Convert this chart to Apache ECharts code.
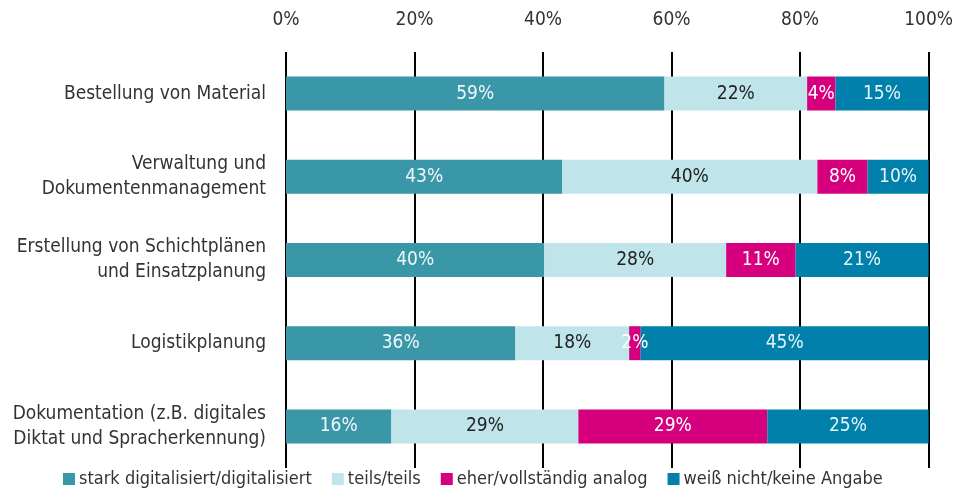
<!DOCTYPE html>
<html>
<head>
<meta charset="utf-8">
<script src="https://cdn.jsdelivr.net/npm/echarts@6/dist/echarts.min.js"></script>
<style>
html,body{margin:0;padding:0;background:#fff;}
#c{width:956px;height:494px;}
</style>
</head>
<body>
<div id="c"></div>
<script>
const categories = [
  'Bestellung von Material',
  'Verwaltung und\nDokumentenmanagement',
  'Erstellung von Schichtplänen\nund Einsatzplanung',
  'Logistikplanung',
  'Dokumentation (z.B. digitales\nDiktat und Spracherkennung)'
];
const seriesNames = [
  'stark digitalisiert/digitalisiert',
  'teils/teils',
  'eher/vollständig analog',
  'weiß nicht/keine Angabe'
];
const starkDigital = [58.9, 43.0, 40.2, 35.7, 16.4];
const teilsTeils   = [22.2, 39.7, 28.3, 17.7, 29.1];
const analog       = [4.4, 7.8, 10.8, 1.8, 29.4];
const keineAngabe  = [14.5, 9.5, 20.7, 44.8, 25.1];
const xTicks = [0, 20, 40, 60, 80, 100];

const colors = ['#3a97a8', '#bfe4ea', '#d6007f', '#0080aa'];
const labelColors = ['#eef7f9', '#222222', '#ffffff', '#e6f3f8'];
const FONT = '"Liberation Sans Narrow", "DejaVu Sans Condensed", "Liberation Sans", sans-serif';

const dataSets = [starkDigital, teilsTeils, analog, keineAngabe];

const chart = echarts.init(document.getElementById('c'));
chart.setOption({
  animation: false,
  backgroundColor: '#ffffff',
  textStyle: { fontFamily: FONT },
  grid: { left: 286, right: 26, top: 52, bottom: 26 },
  legend: {
    bottom: 1,
    left: 58,
    itemWidth: 12,
    itemHeight: 12,
    itemGap: 20,
    icon: 'rect',
    textStyle: { fontFamily: FONT, fontSize: 18, color: '#333333', padding: [0, 0, 0, -1] },
    data: seriesNames
  },
  xAxis: {
    type: 'value',
    position: 'top',
    min: xTicks[0],
    max: xTicks[xTicks.length - 1],
    interval: 20,
    axisLine: { show: false },
    axisTick: { show: false },
    axisLabel: {
      fontFamily: FONT, fontSize: 19, color: '#333333', margin: 22,
      formatter: v => v + '%'
    },
    splitLine: { show: true, lineStyle: { color: '#000000', width: 2 } }
  },
  yAxis: {
    type: 'category',
    inverse: true,
    data: categories,
    axisLine: { show: false },
    axisTick: { show: false },
    axisLabel: {
      fontFamily: FONT, fontSize: 19, color: '#333333', margin: 20,
      lineHeight: 25, align: 'right'
    }
  },
  series: dataSets.map((d, i) => ({
    name: seriesNames[i],
    type: 'bar',
    stack: 'total',
    barWidth: 34,
    itemStyle: { color: colors[i] },
    label: {
      show: true,
      position: 'inside',
      fontFamily: FONT,
      fontSize: 19,
      color: labelColors[i],
      formatter: p => Math.round(p.value) + '%'
    },
    labelLayout: { hideOverlap: false },
    data: d
  }))
});
</script>
</body>
</html>
